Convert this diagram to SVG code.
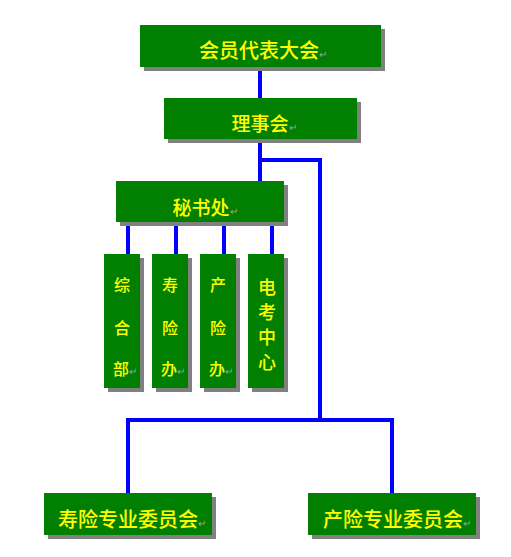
<svg xmlns="http://www.w3.org/2000/svg" width="511" height="557" viewBox="0 0 511 557">
<defs>
<style>
.sh{fill:#808080}
.bx{fill:#007f00}
.t{fill:#ffff00;font-family:"Noto Sans CJK SC","Noto Sans",sans-serif;font-weight:500;text-anchor:middle}
.m{fill:#a0a0a0;font-size:10px;font-weight:400}
.c{stroke:#0000ff;stroke-width:4;fill:none}
</style>
</defs>
<rect width="511" height="557" fill="#ffffff"/>
<g id="connectors">
<line class="c" x1="260" y1="67" x2="260" y2="98"/>
<line class="c" x1="260" y1="139" x2="260" y2="181"/>
<polyline class="c" points="260,160 320,160 320,420"/>
<polyline class="c" points="128,493 128,420 392,420 392,493"/>
<line class="c" x1="128" y1="222" x2="128" y2="254"/>
<line class="c" x1="176" y1="222" x2="176" y2="254"/>
<line class="c" x1="224" y1="222" x2="224" y2="254"/>
<line class="c" x1="272" y1="222" x2="272" y2="254"/>
</g>
<g id="n-hydb">
<rect class="sh" x="144" y="29" width="241" height="42"/>
<rect class="bx" x="140" y="25" width="241" height="42"/>
<text class="t" x="263" y="58" font-size="20">会员代表大会<tspan class="m">↵</tspan></text>
</g>
<g id="n-lsh">
<rect class="sh" x="168" y="102" width="193" height="41"/>
<rect class="bx" x="164" y="98" width="193" height="41"/>
<text class="t" x="264" y="131" font-size="19">理事会<tspan class="m">↵</tspan></text>
</g>
<g id="n-msc">
<rect class="sh" x="120" y="185" width="168" height="41"/>
<rect class="bx" x="116" y="181" width="168" height="41"/>
<text class="t" x="205" y="215" font-size="19">秘书处<tspan class="m">↵</tspan></text>
</g>
<g id="n-zhb">
<rect class="sh" x="108" y="258" width="36" height="134"/>
<rect class="bx" x="104" y="254" width="36" height="134"/>
<text class="t" x="122" y="291" font-size="16">综</text>
<text class="t" x="122" y="334" font-size="16">合</text>
<text class="t" x="125" y="375" font-size="16">部<tspan class="m">↵</tspan></text>
</g>
<g id="n-sxb">
<rect class="sh" x="156" y="258" width="36" height="134"/>
<rect class="bx" x="152" y="254" width="36" height="134"/>
<text class="t" x="170" y="291" font-size="16">寿</text>
<text class="t" x="170" y="334" font-size="16">险</text>
<text class="t" x="173" y="375" font-size="16">办<tspan class="m">↵</tspan></text>
</g>
<g id="n-cxb">
<rect class="sh" x="204" y="258" width="36" height="134"/>
<rect class="bx" x="200" y="254" width="36" height="134"/>
<text class="t" x="218" y="291" font-size="16">产</text>
<text class="t" x="218" y="334" font-size="16">险</text>
<text class="t" x="221" y="375" font-size="16">办<tspan class="m">↵</tspan></text>
</g>
<g id="n-dkzx">
<rect class="sh" x="252" y="258" width="36" height="134"/>
<rect class="bx" x="248" y="254" width="36" height="134"/>
<text class="t" x="267" y="294" font-size="18">电</text>
<text class="t" x="267" y="319" font-size="18">考</text>
<text class="t" x="267" y="344" font-size="18">中</text>
<text class="t" x="267" y="369" font-size="18">心</text>
</g>
<g id="n-sxwyh">
<rect class="sh" x="48" y="497" width="168" height="42"/>
<rect class="bx" x="44" y="493" width="168" height="42"/>
<text class="t" x="132" y="527" font-size="20">寿险专业委员会<tspan class="m">↵</tspan></text>
</g>
<g id="n-cxwyh">
<rect class="sh" x="312" y="497" width="168" height="42"/>
<rect class="bx" x="308" y="493" width="168" height="42"/>
<text class="t" x="397" y="527" font-size="20">产险专业委员会<tspan class="m">↵</tspan></text>
</g>
</svg>
